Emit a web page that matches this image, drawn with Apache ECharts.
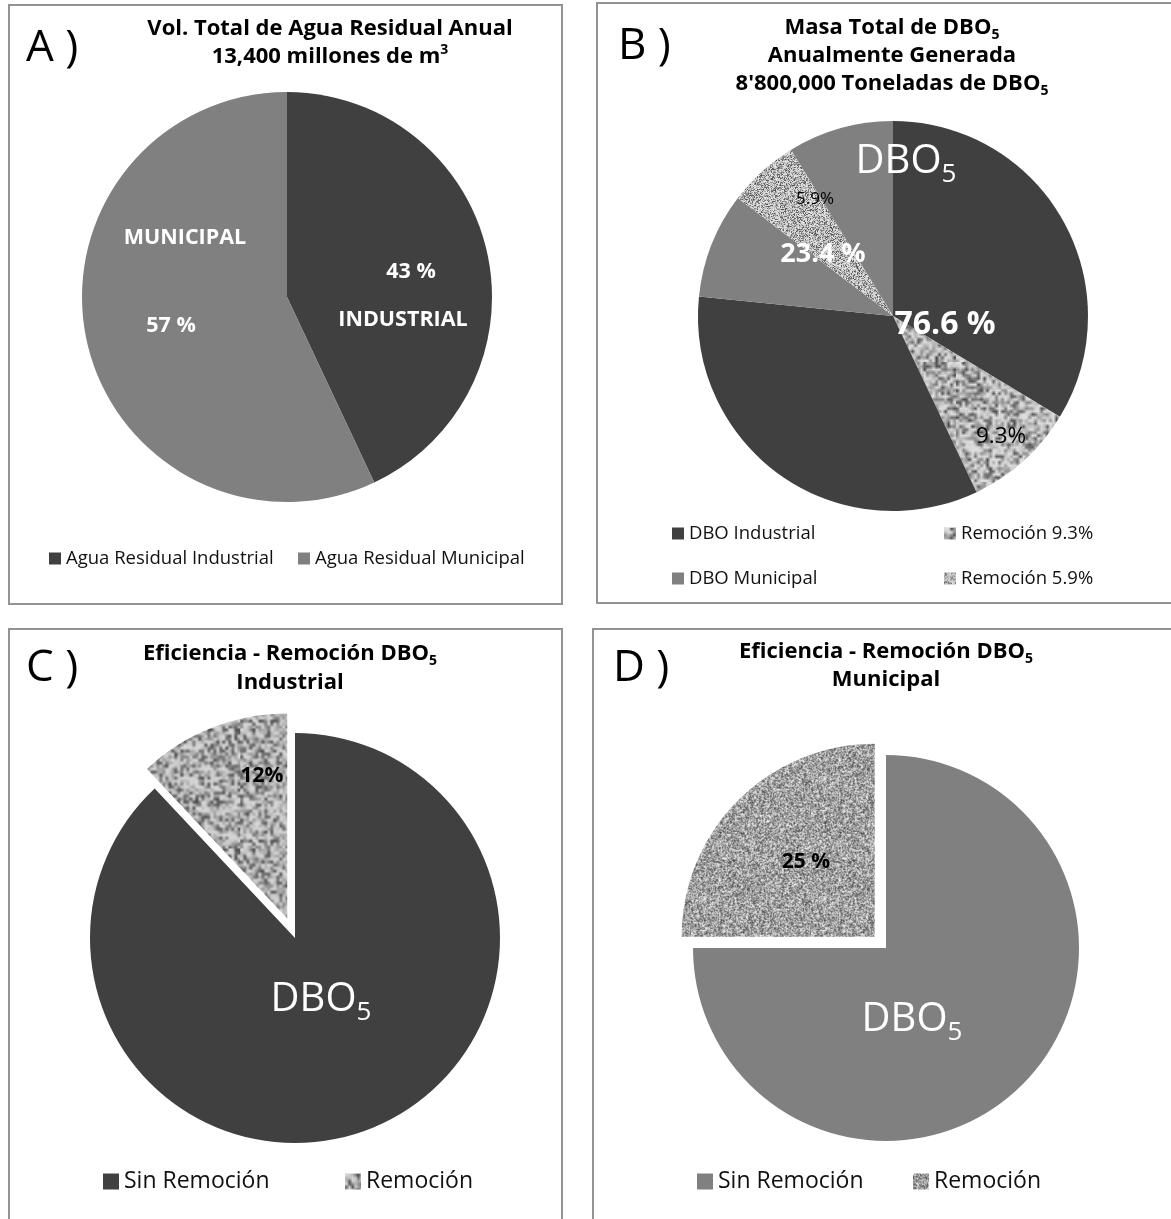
<!DOCTYPE html>
<html>
<head>
<meta charset="utf-8">
<script src="https://cdn.jsdelivr.net/npm/echarts@6/dist/echarts.min.js"></script>
<style>
  html, body { margin: 0; padding: 0; background: #fff; }
  body { width: 1171px; height: 1219px; position: relative; overflow: hidden; }
  .box { position: absolute; border: 2px solid #939393; box-sizing: border-box; }
  .chart { position: absolute; }
</style>
</head>
<body>
<div class="box" style="left:8px;top:4px;width:555px;height:601px"></div>
<div class="box" style="left:596px;top:2px;width:590px;height:602px"></div>
<div class="box" style="left:8px;top:628px;width:555px;height:620px"></div>
<div class="box" style="left:592px;top:628px;width:600px;height:620px"></div>

<div id="chartA" class="chart" style="left:8px;top:4px;width:555px;height:601px"></div>
<div id="chartB" class="chart" style="left:596px;top:2px;width:575px;height:602px"></div>
<div id="chartC" class="chart" style="left:8px;top:628px;width:555px;height:591px"></div>
<div id="chartD" class="chart" style="left:592px;top:628px;width:579px;height:591px"></div>

<script>
// ---- Data ----
// A) annual wastewater volume split (%)
const volNames = ['Agua Residual Industrial', 'Agua Residual Municipal'];
const volValues = [43, 57];
const volTags = ['INDUSTRIAL', 'MUNICIPAL'];

// B) BOD5 mass: sector totals and the removed share of each (% of all BOD5)
const bodSectors = ['DBO Industrial', 'DBO Municipal'];
const bodTotals = [76.6, 23.4];
const bodRemoved = [9.3, 5.9];

// C) / D) removal efficiency per sector (%)
const effNames = ['Sin Remoción', 'Remoción'];
const effIndustrial = [88, 12];
const effMunicipal = [75, 25];

// ---- Styling helpers ----
const FONT = '"Open Sans", "Noto Sans", sans-serif';
const DARK = '#404040';
const GRAY = '#808080';
const TITLE_SIZE = 22;

// Deterministic PRNG for the speckled fill textures
function prng(seed) {
  let a = seed >>> 0;
  return function () {
    a = (a + 0x6D2B79F5) >>> 0;
    let t = a;
    t = Math.imul(t ^ (t >>> 15), t | 1);
    t ^= t + Math.imul(t ^ (t >>> 7), t | 61);
    return ((t ^ (t >>> 14)) >>> 0) / 4294967296;
  };
}

// Grainy grey texture: `cell` controls grain size, shade(r) maps noise to grey level
function speckle(seed, cell, shade) {
  const size = 120;
  const n = Math.ceil(size / cell);
  const small = document.createElement('canvas');
  small.width = n; small.height = n;
  const sctx = small.getContext('2d');
  const img = sctx.createImageData(n, n);
  const rnd = prng(seed);
  for (let i = 0; i < n * n; i++) {
    const v = Math.max(0, Math.min(255, Math.round(shade(rnd()))));
    img.data[i * 4] = v; img.data[i * 4 + 1] = v; img.data[i * 4 + 2] = v; img.data[i * 4 + 3] = 255;
  }
  sctx.putImageData(img, 0, 0);
  const big = document.createElement('canvas');
  big.width = size; big.height = size;
  const bctx = big.getContext('2d');
  bctx.imageSmoothingEnabled = cell > 1;
  bctx.drawImage(small, 0, 0, size, size);
  return { image: big, repeat: 'repeat' };
}

const coarseTex = speckle(7, 3, r => 222 - 150 * Math.pow(r, 2.2));
const coarseTex2 = speckle(19, 3, r => 218 - 150 * Math.pow(r, 2.0));
const fineLight = speckle(31, 1, r => 228 - 150 * Math.pow(r, 1.8));
const fineMid = speckle(43, 1, r => 70 + 180 * r);

function txt(x, y, text, size, opts) {
  opts = opts || {};
  return {
    type: 'text', x: x, y: y, z: 100, silent: true,
    style: {
      text: text,
      fontFamily: FONT,
      fontSize: size,
      fontWeight: opts.weight || 'normal',
      fill: opts.color || '#000',
      align: opts.align || 'center',
      verticalAlign: 'middle',
      rich: opts.rich
    }
  };
}

// text with a subscript token: "{m|DBO}{s|5}"
function subRich(size, subSize, weight, color) {
  return {
    m: { fontFamily: FONT, fontSize: size, fontWeight: weight, fill: color, color: color, lineHeight: Math.round(size * 1.3) },
    s: { fontFamily: FONT, fontSize: subSize, fontWeight: weight, fill: color, color: color, lineHeight: subSize, verticalAlign: 'bottom' }
  };
}

function legendAt(left, top, name, size, box) {
  return {
    left: left, top: top, orient: 'horizontal', data: [name], padding: 0,
    icon: 'rect', itemWidth: box, itemHeight: box, itemGap: 10,
    selectedMode: false,
    textStyle: { fontFamily: FONT, fontSize: size, color: '#111' }
  };
}

function pieBase(cx, cy, r, data, extra) {
  return Object.assign({
    type: 'pie', center: [cx, cy], radius: r, startAngle: 90, clockwise: true,
    label: { show: false }, labelLine: { show: false },
    itemStyle: { borderWidth: 0 },
    emphasis: { disabled: true },
    avoidLabelOverlap: false, silent: true,
    data: data
  }, extra || {});
}

// ---- A) wastewater volume ----
const chartA = echarts.init(document.getElementById('chartA'));
chartA.setOption({
  animation: false,
  legend: [
    legendAt(41, 545, volNames[0], 18.5, 12),
    legendAt(290, 545, volNames[1], 18.5, 12)
  ],
  series: [pieBase(279, 293, 205, [
    { name: volNames[0], value: volValues[0], itemStyle: { color: DARK } },
    { name: volNames[1], value: volValues[1], itemStyle: { color: GRAY } }
  ])],
  graphic: [
    txt(18, 44, 'A )', 44, { align: 'left' }),
    txt(322, 25, 'Vol. Total de Agua Residual Anual', TITLE_SIZE, { weight: 'bold' }),
    txt(322, 53, '{m|13,400 millones de m}{p|3}', TITLE_SIZE, {
      weight: 'bold',
      rich: {
        m: { fontFamily: FONT, fontSize: TITLE_SIZE, fontWeight: 'bold', fill: '#000', lineHeight: 28 },
        p: { fontFamily: FONT, fontSize: 14, fontWeight: 'bold', fill: '#000', lineHeight: 28, verticalAlign: 'top' }
      }
    }),
    txt(403, 268, volValues[0] + ' %', 21.5, { weight: 'bold', color: '#fff' }),
    txt(395, 316, volTags[0], 21.5, { weight: 'bold', color: '#fff' }),
    txt(177, 234, volTags[1], 21.5, { weight: 'bold', color: '#fff' }),
    txt(163, 322, volValues[1] + ' %', 21.5, { weight: 'bold', color: '#fff' })
  ]
});

// ---- B) BOD5 mass ----
const indKept = (bodTotals[0] - bodRemoved[0]) / 2;
const munKept = (bodTotals[1] - bodRemoved[1]) / 2;
const remIndName = 'Remoción ' + bodRemoved[0] + '%';
const remMunName = 'Remoción ' + bodRemoved[1] + '%';
const chartB = echarts.init(document.getElementById('chartB'));
chartB.setOption({
  animation: false,
  legend: [
    legendAt(76, 522, bodSectors[0], 18.5, 12),
    legendAt(348, 522, remIndName, 18.5, 12),
    legendAt(76, 567, bodSectors[1], 18.5, 12),
    legendAt(348, 567, remMunName, 18.5, 12)
  ],
  series: [pieBase(297, 314, 195, [
    { name: bodSectors[0], value: indKept, itemStyle: { color: DARK } },
    { name: remIndName, value: bodRemoved[0], itemStyle: { color: coarseTex } },
    { name: bodSectors[0], value: indKept, itemStyle: { color: DARK } },
    { name: bodSectors[1], value: munKept, itemStyle: { color: GRAY } },
    { name: remMunName, value: bodRemoved[1], itemStyle: { color: fineLight } },
    { name: bodSectors[1], value: munKept, itemStyle: { color: GRAY } }
  ])],
  graphic: [
    txt(22, 44, 'B )', 44, { align: 'left' }),
    txt(296, 26, '{m|Masa Total de DBO}{s|5}', TITLE_SIZE, { rich: subRich(TITLE_SIZE, 14, 'bold', '#000') }),
    txt(296, 54, 'Anualmente Generada', TITLE_SIZE, { weight: 'bold' }),
    txt(296, 82, "{m|8'800,000 Toneladas de DBO}{s|5}", TITLE_SIZE, { rich: subRich(TITLE_SIZE, 14, 'bold', '#000') }),
    txt(310, 160, '{m|DBO}{s|5}', 40, { rich: subRich(40, 26, 'normal', '#fff') }),
    txt(219, 197, bodRemoved[1] + '%', 17),
    txt(227, 252, bodTotals[1] + ' %', 27, { weight: 'bold', color: '#fff' }),
    txt(349, 323, bodTotals[0] + ' %', 32, { weight: 'bold', color: '#fff' }),
    txt(405, 435, bodRemoved[0] + '%', 22.5)
  ]
});

// ---- C) industrial removal efficiency ----
const chartC = echarts.init(document.getElementById('chartC'));
chartC.setOption({
  animation: false,
  legend: [
    legendAt(95, 542, effNames[0], 23, 16),
    legendAt(337, 542, effNames[1], 23, 16)
  ],
  series: [pieBase(287, 310, 205, [
    { name: effNames[0], value: effIndustrial[0], itemStyle: { color: DARK } },
    { name: effNames[1], value: effIndustrial[1], selected: true, itemStyle: { color: coarseTex2 } }
  ], { selectedMode: 'single', selectedOffset: 21 })],
  graphic: [
    txt(18, 40, 'C )', 44, { align: 'left' }),
    txt(282, 26, '{m|Eficiencia - Remoción DBO}{s|5}', TITLE_SIZE, { rich: subRich(TITLE_SIZE, 14, 'bold', '#000') }),
    txt(282, 55, 'Industrial', TITLE_SIZE, { weight: 'bold' }),
    txt(254, 148, effIndustrial[1] + '%', 21, { weight: 'bold' }),
    txt(313, 372, '{m|DBO}{s|5}', 40, { rich: subRich(40, 26, 'normal', '#fff') })
  ]
});

// ---- D) municipal removal efficiency ----
const chartD = echarts.init(document.getElementById('chartD'));
chartD.setOption({
  animation: false,
  legend: [
    legendAt(105, 542, effNames[0], 23, 16),
    legendAt(321, 542, effNames[1], 23, 16)
  ],
  series: [pieBase(294, 320, 193, [
    { name: effNames[0], value: effMunicipal[0], itemStyle: { color: GRAY } },
    { name: effNames[1], value: effMunicipal[1], selected: true, itemStyle: { color: fineMid } }
  ], { selectedMode: 'single', selectedOffset: 16 })],
  graphic: [
    txt(21, 40, 'D )', 44, { align: 'left' }),
    txt(294, 24, '{m|Eficiencia - Remoción DBO}{s|5}', TITLE_SIZE, { rich: subRich(TITLE_SIZE, 14, 'bold', '#000') }),
    txt(294, 52, 'Municipal', TITLE_SIZE, { weight: 'bold' }),
    txt(214, 234, effMunicipal[1] + ' %', 21, { weight: 'bold' }),
    txt(320, 392, '{m|DBO}{s|5}', 40, { rich: subRich(40, 26, 'normal', '#fff') })
  ]
});
</script>
</body>
</html>
